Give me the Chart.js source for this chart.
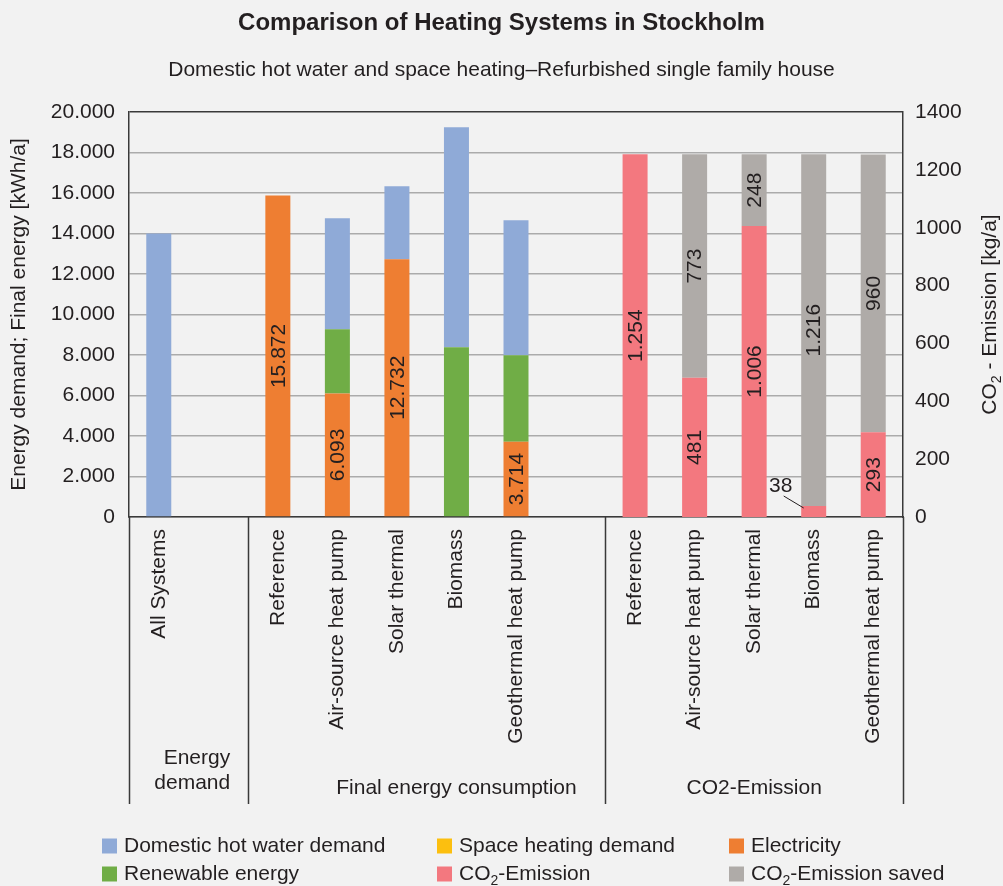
<!DOCTYPE html>
<html>
<head>
<meta charset="utf-8">
<script src="https://cdn.jsdelivr.net/npm/chart.js@4.4.1/dist/chart.umd.min.js"></script>
<style>
  html, body { margin: 0; padding: 0; background: #f2f2f2; }
</style>
</head>
<body>
<canvas id="chart" width="1003" height="886"></canvas>
<script>
var FONT = '"Liberation Sans", Arial, Helvetica, sans-serif';
var INK = '#231f20';

var categories = ['All Systems', '', 'Reference', 'Air-source heat pump', 'Solar thermal', 'Biomass',
  'Geothermal heat pump', '', 'Reference', 'Air-source heat pump', 'Solar thermal', 'Biomass',
  'Geothermal heat pump'];

// kWh/a (left axis)
var hotWaterDemand = [14000, null, null, 5480, 3600, 10870, 6670, null, null, null, null, null, null];
var spaceHeatingDemand = [null, null, null, null, null, null, null, null, null, null, null, null, null];
var electricity = [null, null, 15872, 6093, 12732, null, 3714, null, null, null, null, null, null];
var renewable = [null, null, null, 3180, null, 8380, 4270, null, null, null, null, null, null];

// kg/a (right axis)
var co2Emission = [null, null, null, null, null, null, null, null, 1254, 481, 1006, 38, 293];
var co2Saved = [null, null, null, null, null, null, null, null, null, 773, 248, 1216, 960];

var energyTicks = [0, 2000, 4000, 6000, 8000, 10000, 12000, 14000, 16000, 18000, 20000];
var co2Ticks = [0, 200, 400, 600, 800, 1000, 1200, 1400];

var groupNames = [['Energy', 'demand'], ['Final energy consumption'], ['CO2-Emission']];
var groupFrom = [0, 2, 8];
var groupTo = [1, 7, 12];
var groupLabelAt = [1.2, 5, 10];
var groupAlign = ['right', 'center', 'center'];

function dotted(v) {
  return String(Math.round(v)).replace(/\B(?=(\d{3})+(?!\d))/g, '.');
}

// text with "₂" drawn as a real lowered small 2
function richWidth(ctx, text, size) {
  var parts = text.split('\u2082'), w = 0;
  for (var i = 0; i < parts.length; i++) {
    ctx.font = size + 'px ' + FONT;
    w += ctx.measureText(parts[i]).width;
    if (i < parts.length - 1) {
      ctx.font = Math.round(size * 0.65) + 'px ' + FONT;
      w += ctx.measureText('2').width;
    }
  }
  return w;
}
function richText(ctx, text, x, y, size) {
  var parts = text.split('\u2082');
  ctx.textAlign = 'left';
  ctx.textBaseline = 'middle';
  for (var i = 0; i < parts.length; i++) {
    ctx.font = size + 'px ' + FONT;
    ctx.fillText(parts[i], x, y);
    x += ctx.measureText(parts[i]).width;
    if (i < parts.length - 1) {
      ctx.font = Math.round(size * 0.65) + 'px ' + FONT;
      ctx.fillText('2', x, y + size * 0.32);
      x += ctx.measureText('2').width;
    }
  }
}

var extras = {
  id: 'extras',
  afterDatasetsDraw: function (chart) {
    var ctx = chart.ctx;
    ctx.save();
    ctx.fillStyle = INK;
    ctx.strokeStyle = INK;
    chart.data.datasets.forEach(function (ds, di) {
      if (!ds.showValues) return;
      var meta = chart.getDatasetMeta(di);
      meta.data.forEach(function (bar, i) {
        var v = ds.data[i];
        if (v == null) return;
        var txt = dotted(v);
        ctx.font = '21px ' + FONT;
        ctx.textAlign = 'center';
        ctx.textBaseline = 'middle';
        if (Math.abs(bar.base - bar.y) < 30) {
          ctx.fillText(txt, bar.x - 33, bar.y - 20);
          ctx.lineWidth = 1;
          ctx.beginPath();
          ctx.moveTo(bar.x - 30, bar.y - 10);
          ctx.lineTo(bar.x - 10, bar.y + 2);
          ctx.stroke();
        } else {
          ctx.save();
          ctx.translate(bar.x, (bar.y + bar.base) / 2);
          ctx.rotate(-Math.PI / 2);
          ctx.fillText(txt, 0, 1);
          ctx.restore();
        }
      });
    });
    ctx.restore();
  },
  afterDraw: function (chart) {
    var ctx = chart.ctx, area = chart.chartArea, x = chart.scales.x;
    var step = x.getPixelForValue(1) - x.getPixelForValue(0);
    var at = function (v) { return x.getPixelForValue(0) + v * step; };
    ctx.save();
    // group separators under the axis
    ctx.strokeStyle = '#3a3a3a';
    ctx.lineWidth = 1.5;
    var seps = groupFrom.map(function (f) { return at(f - 0.5); });
    seps.push(at(groupTo[groupTo.length - 1] + 0.5));
    seps.forEach(function (sx) {
      ctx.beginPath();
      ctx.moveTo(Math.round(sx) + 0.5, area.bottom);
      ctx.lineTo(Math.round(sx) + 0.5, area.bottom + 287);
      ctx.stroke();
    });
    // group names
    ctx.fillStyle = INK;
    ctx.font = '21px ' + FONT;
    ctx.textBaseline = 'middle';
    groupNames.forEach(function (lines, g) {
      ctx.textAlign = groupAlign[g];
      var gx = at(groupLabelAt[g]);
      if (lines.length === 1) {
        ctx.fillText(lines[0], gx, area.bottom + 271);
      } else {
        lines.forEach(function (ln, k) {
          ctx.fillText(ln, gx, area.bottom + 241 + k * 25);
        });
      }
    });
    // right axis title, reading upwards
    var t = 'CO\u2082 - Emission [kg/a]';
    var tw = richWidth(ctx, t, 21);
    ctx.save();
    ctx.translate(990, (area.top + area.bottom) / 2);
    ctx.rotate(-Math.PI / 2);
    richText(ctx, t, -tw / 2, 0, 21);
    ctx.restore();
    // legend in three columns
    var cols = [102, 437, 729], rows = [846, 874];
    chart.data.datasets.forEach(function (ds, k) {
      var lx = cols[k % 3], ly = rows[Math.floor(k / 3)];
      ctx.fillStyle = ds.backgroundColor;
      ctx.fillRect(lx, ly - 7.5, 15, 15);
      ctx.fillStyle = INK;
      richText(ctx, ds.label, lx + 22, ly, 21);
    });
    ctx.restore();
  }
};

new Chart(document.getElementById('chart').getContext('2d'), {
  type: 'bar',
  data: {
    labels: categories,
    datasets: [
      { label: 'Domestic hot water demand', data: hotWaterDemand, backgroundColor: '#8faad7', yAxisID: 'y', order: 3 },
      { label: 'Space heating demand', data: spaceHeatingDemand, backgroundColor: '#fcbf0f', yAxisID: 'y', order: 4 },
      { label: 'Electricity', data: electricity, backgroundColor: '#ee7e32', yAxisID: 'y', order: 1, showValues: true },
      { label: 'Renewable energy', data: renewable, backgroundColor: '#70ad46', yAxisID: 'y', order: 2 },
      { label: 'CO\u2082-Emission', data: co2Emission, backgroundColor: '#f3787f', yAxisID: 'y1', order: 5, showValues: true },
      { label: 'CO\u2082-Emission saved', data: co2Saved, backgroundColor: '#afaba8', yAxisID: 'y1', order: 6, showValues: true }
    ]
  },
  options: {
    responsive: false,
    animation: false,
    layout: { padding: 0 },
    datasets: {
      bar: { barPercentage: 0.42, categoryPercentage: 1.0 }
    },
    plugins: {
      legend: { display: false },
      tooltip: { enabled: false },
      title: {
        display: true,
        text: 'Comparison of Heating Systems in Stockholm',
        color: INK,
        font: { family: FONT, size: 24, weight: 'bold' },
        padding: { top: 9, bottom: 0 }
      },
      subtitle: {
        display: true,
        text: 'Domestic hot water and space heating\u2013Refurbished single family house',
        color: INK,
        font: { family: FONT, size: 21 },
        padding: { top: 19.6, bottom: 29.4 }
      }
    },
    scales: {
      x: {
        stacked: true,
        grid: { display: false, drawTicks: false },
        border: { display: true, color: '#3a3a3a', width: 1.5 },
        ticks: {
          autoSkip: false,
          maxRotation: 90,
          minRotation: 90,
          padding: 12,
          color: INK,
          font: { family: FONT, size: 21 }
        },
        afterFit: function (s) { s.height = 369; }
      },
      y: {
        position: 'left',
        stacked: true,
        min: 0,
        max: 20000,
        afterBuildTicks: function (s) { s.ticks = energyTicks.map(function (v) { return { value: v }; }); },
        grid: {
          drawTicks: false,
          color: function (c) { return c.tick && c.tick.value === 20000 ? '#3a3a3a' : '#ababab'; },
          lineWidth: function (c) { return c.tick && c.tick.value === 20000 ? 1.5 : 1.4; }
        },
        border: { display: true, color: '#3a3a3a', width: 1.5 },
        ticks: {
          padding: 14,
          color: INK,
          font: { family: FONT, size: 21 },
          callback: function (v) { return dotted(v); }
        },
        title: {
          display: true,
          text: 'Energy demand; Final energy [kWh/a]',
          color: INK,
          font: { family: FONT, size: 21 },
          padding: { top: 7, bottom: 0 }
        },
        afterFit: function (s) { s.width = 129; }
      },
      y1: {
        position: 'right',
        stacked: true,
        min: 0,
        max: 1400,
        afterBuildTicks: function (s) { s.ticks = co2Ticks.map(function (v) { return { value: v }; }); },
        grid: { display: false, drawTicks: false },
        border: { display: true, color: '#3a3a3a', width: 1.5 },
        ticks: {
          padding: 12,
          color: INK,
          font: { family: FONT, size: 21 },
          callback: function (v) { return String(v); }
        },
        afterFit: function (s) { s.width = 100; }
      }
    }
  },
  plugins: [extras]
});
</script>
</body>
</html>
